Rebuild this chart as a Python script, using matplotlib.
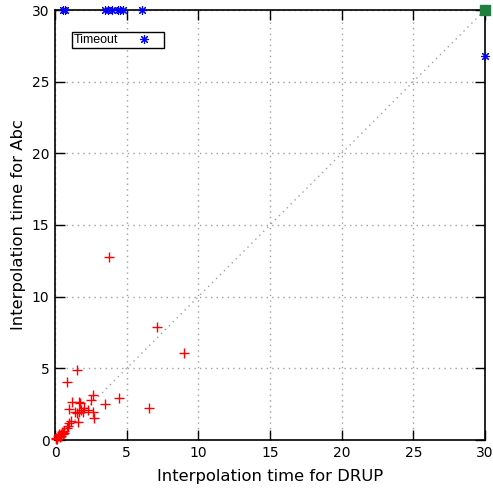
import matplotlib
matplotlib.use("Agg")
import matplotlib.pyplot as plt

# Solved by both (red +)
drup_both = [1.56, 0.86, 2.67, 2.49, 3.49, 4.47, 6.58, 1.16, 1.70, 1.74, 0.98, 1.40, 1.56,
             1.70, 1.81, 2.05, 2.28, 2.67, 2.74, 1.93, 1.58, 1.10, 0.98, 0.90, 0.81,
             0.60, 0.50, 0.40, 0.30, 0.20, 0.10, 0.45, 0.35, 0.25, 0.15, 0.55, 0.05, 0.65,
             3.77, 7.12, 9.00]
abc_both = [4.88, 4.07, 3.14, 2.79, 2.51, 2.91, 2.21, 2.67, 2.65, 2.56, 2.14, 1.98, 1.91,
            1.98, 2.09, 2.21, 2.09, 1.98, 1.51, 1.98, 1.23, 1.33, 1.16, 1.00, 0.81,
            0.62, 0.55, 0.45, 0.35, 0.25, 0.12, 0.30, 0.20, 0.40, 0.10, 0.45, 0.05, 0.50,
            12.77, 7.89, 6.07]

# Timeouts (blue *)
drup_to = [0.56, 0.72, 3.50, 3.70, 4.00, 4.40, 4.55, 4.75, 6.10, 30.0]
abc_to = [30, 30, 30, 30, 30, 30, 30, 30, 30, 26.8]

# Both timed out (green square)
drup_both_to = [30]
abc_both_to = [30]

fig = plt.figure(figsize=(4.93, 4.91), dpi=100)
ax = fig.add_axes([55/493, 51/491, 430/493, 430/491])

ax.plot([0, 30], [0, 30], color="#a0a0a0", linestyle=(0, (1, 3)), linewidth=1, zorder=1)
ax.plot(drup_both, abc_both, linestyle="none", marker="+", color="red",
        markersize=7, markeredgewidth=1, zorder=3, clip_on=False)
ax.plot(drup_to, abc_to, linestyle="none", marker=(8, 2, 0), color="blue",
        markersize=6.5, markeredgewidth=0.8, zorder=4, clip_on=False, label="Timeout")
ax.plot(drup_both_to, abc_both_to, linestyle="none", marker="s", color="#1f7f3f",
        markersize=7, zorder=5, clip_on=False)

ax.set_xlim(0, 30)
ax.set_ylim(0, 30)
ticks = [0, 5, 10, 15, 20, 25, 30]
ax.set_xticks(ticks)
ax.set_yticks(ticks)
ax.grid(True, color="#a0a0a0", linestyle=(0, (1, 3)), linewidth=1)
ax.tick_params(direction="in", length=7, width=1, top=True, right=True,
               labelsize=10, colors="black", pad=4)
for s in ax.spines.values():
    s.set_linewidth(1.2)

ax.set_xlabel("Interpolation time for DRUP", fontsize=11.8, labelpad=7)
ax.set_ylabel("Interpolation time for Abc", fontsize=11.8, labelpad=4)

leg = ax.legend(loc="upper left", bbox_to_anchor=(17/430, 1 - 22/430), frameon=True,
                fancybox=False, edgecolor="black", framealpha=1,
                prop={"family": "Liberation Sans", "size": 9}, markerfirst=False,
                handlelength=2.9, borderpad=0.15, handletextpad=0.6, borderaxespad=0)
leg.get_frame().set_linewidth(1)

fig.savefig("out.png", dpi=100)
